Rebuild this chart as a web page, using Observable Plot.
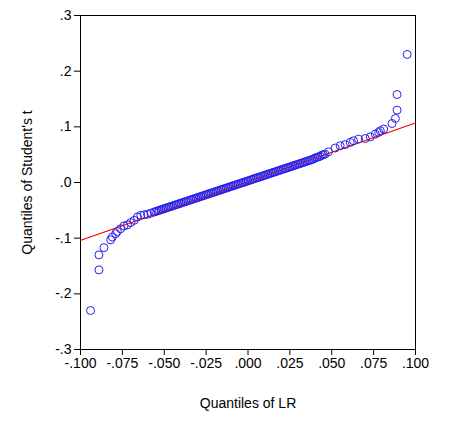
<!DOCTYPE html>
<html><head><meta charset="utf-8">
<script src="https://cdn.jsdelivr.net/npm/d3@7"></script>
<script src="https://cdn.jsdelivr.net/npm/@observablehq/plot@0.6"></script>
<style>body{margin:0;background:#fff;font-family:"Liberation Sans",Arial,sans-serif}</style>
</head><body><div id="chart"></div>
<script>
const lrQ = [-0.094,-0.089,-0.089,-0.086,-0.082,-0.081,-0.079,-0.078,-0.076,-0.074,-0.072,-0.070,-0.068,-0.066,-0.064,-0.062,-0.060,-0.058,
  -0.056,-0.054,-0.052,-0.050,-0.048,-0.046,-0.044,-0.042,-0.040,-0.038,-0.036,-0.034,-0.032,-0.030,-0.028,-0.026,-0.024,-0.022,-0.020,-0.018,-0.016,-0.014,-0.012,-0.010,-0.008,-0.006,-0.004,-0.002,0.000,0.002,0.004,0.006,0.008,0.010,0.012,0.014,0.016,0.018,0.020,0.022,0.024,0.026,0.028,0.030,0.032,0.034,0.036,0.038,0.040,0.042,0.044,0.046,
  -0.055,-0.053,-0.051,-0.049,-0.047,-0.045,-0.043,-0.041,-0.039,-0.037,-0.035,-0.033,-0.031,-0.029,-0.027,-0.025,-0.023,-0.021,-0.019,-0.017,-0.015,-0.013,-0.011,-0.009,-0.007,-0.005,-0.003,-0.001,0.001,0.003,0.005,0.007,0.009,0.011,0.013,0.015,0.017,0.019,0.021,0.023,0.025,0.027,0.029,0.031,0.033,0.035,0.037,0.039,0.041,0.043,0.045,
  0.048,0.052,0.055,0.058,0.061,0.063,0.066,0.070,0.073,0.076,0.078,0.079,0.081,0.086,0.088,0.089,0.089,0.095];
const tQ = [-0.230,-0.157,-0.130,-0.117,-0.103,-0.098,-0.092,-0.088,-0.083,-0.078,-0.076,-0.072,-0.068,-0.062,-0.059,-0.058,-0.057,-0.055,
  -0.053,-0.051,-0.049,-0.047,-0.045,-0.043,-0.041,-0.039,-0.037,-0.035,-0.033,-0.031,-0.029,-0.027,-0.025,-0.023,-0.021,-0.019,-0.017,-0.015,-0.013,-0.011,-0.009,-0.007,-0.005,-0.003,-0.001,0.001,0.003,0.005,0.007,0.009,0.011,0.013,0.015,0.017,0.019,0.021,0.023,0.025,0.027,0.029,0.031,0.033,0.035,0.037,0.039,0.041,0.044,0.046,0.049,0.051,
  -0.052,-0.050,-0.048,-0.046,-0.044,-0.042,-0.040,-0.038,-0.036,-0.034,-0.032,-0.030,-0.028,-0.026,-0.024,-0.022,-0.020,-0.018,-0.016,-0.014,-0.012,-0.010,-0.008,-0.006,-0.004,-0.002,0.000,0.002,0.004,0.006,0.008,0.010,0.012,0.014,0.016,0.018,0.020,0.022,0.024,0.026,0.028,0.030,0.032,0.034,0.036,0.038,0.040,0.042,0.045,0.047,0.050,
  0.055,0.062,0.066,0.068,0.072,0.075,0.078,0.079,0.082,0.087,0.090,0.093,0.096,0.106,0.115,0.130,0.158,0.230];
const fitLine = [[-0.1,-0.104],[0.1,0.107]];
const xTicks = [-0.1,-0.075,-0.05,-0.025,0,0.025,0.05,0.075,0.1];
const yTicks = [-0.3,-0.2,-0.1,0,0.1,0.2,0.3];

const pts = lrQ.map((x,i)=>({x, y:tQ[i]}));
const fmt = (d,dec) => { let s = Math.abs(d).toFixed(dec).replace(/^0/,""); return (d<0?"-":"")+s; };

const plot = Plot.plot({
  width:463, height:425,
  marginLeft:80, marginRight:48, marginTop:15, marginBottom:76,
  style:{fontFamily:"Liberation Sans, Arial, sans-serif", fontSize:"14px", color:"#000"},
  x:{domain:[-0.1,0.1]},
  y:{domain:[-0.3,0.3]},
  marks:[
    Plot.frame({stroke:"#000"}),
    Plot.line(fitLine,{x:d=>d[0], y:d=>d[1], stroke:"red", strokeWidth:1}),
    Plot.dot(pts,{x:"x", y:"y", r:4, stroke:"#2222ee", strokeWidth:1, fill:"none"}),
    Plot.line(fitLine,{x:d=>d[0], y:d=>d[1], stroke:"red", strokeWidth:0.8, strokeOpacity:0.6}),
    Plot.axisX({ticks:xTicks, tickFormat:d=>fmt(d,3), label:"Quantiles of LR", labelAnchor:"center", labelArrow:"none", labelOffset:58, tickSize:6}),
    Plot.axisY({ticks:yTicks, tickFormat:d=>fmt(d,1), label:"Quantiles of Student's t", labelAnchor:"center", labelArrow:"none", labelOffset:58, tickSize:6})
  ]
});
document.querySelector("#chart").append(plot);
</script></body></html>
